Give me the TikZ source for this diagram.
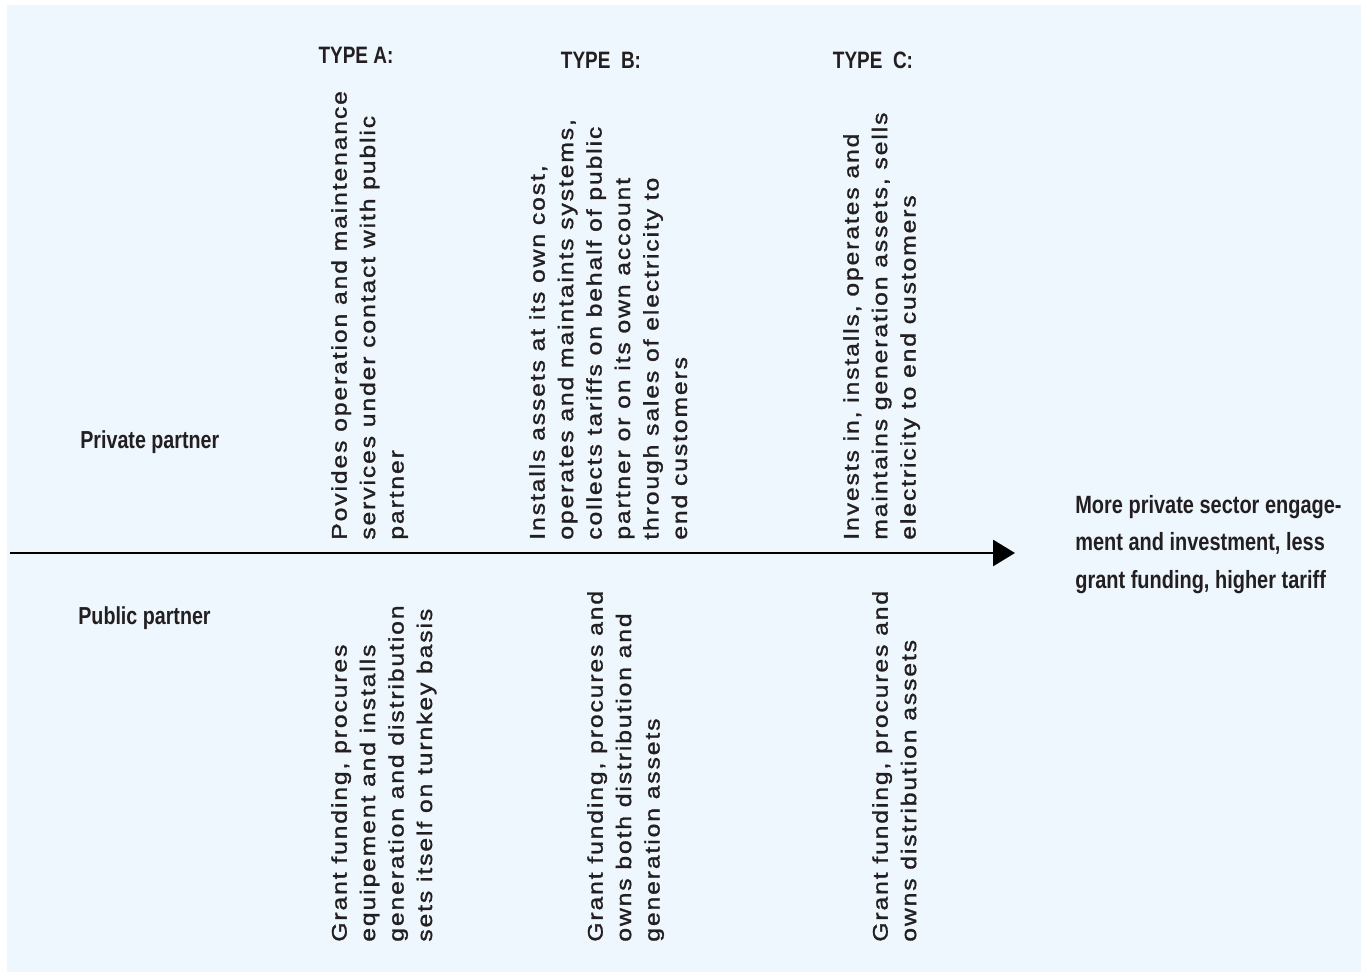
\documentclass[tikz,border=0pt]{standalone}
\usepackage{fontspec}
\setmainfont{Liberation Sans}
\newfontfamily\bodyfont{Liberation Sans}[FakeStretch=1.17,LetterSpace=9,FakeBold=1.4]
\newfontfamily\labelfont{Liberation Sans}[FakeStretch=0.8]
\usepackage{xcolor}
\usepackage{tikz}
\usetikzlibrary{arrows.meta,positioning}
\definecolor{panelblue}{HTML}{EEF6FE}
\definecolor{inkgray}{HTML}{231F20}

\begin{document}
\begin{tikzpicture}[x=0.02cm,y=-0.02cm,
  vtext/.style={rotate=90,anchor=north west,inner sep=0pt,align=left,text=inkgray,
    font=\bodyfont\fontsize{12}{16.2}\selectfont},
  typelabel/.style={inner sep=0pt,text=inkgray,font=\labelfont\bfseries\fontsize{13.5}{16}\selectfont},
  sidelabel/.style={inner sep=0pt,anchor=west,text=inkgray,font=\labelfont\bfseries\fontsize{14}{17}\selectfont}]
  \useasboundingbox (0,0) rectangle (1361,972);
  \fill[white] (0,0) rectangle (1361,972);
  \fill[panelblue] (7,5) rectangle (1361,972);
  % axis
  \coordinate (axisL) at (10,553);
  \coordinate (axisR) at (1015,553);
  \draw[line width=1.7pt,-{Triangle[length=0.44cm,width=0.52cm]}] (axisL) -- (axisR);
  % headings
  \node[typelabel] (typeA) at (356,55) {TYPE A:};
  \node[typelabel] (typeB) at (601,60) {TYPE\ \ B:};
  \node[typelabel] (typeC) at (873,60) {TYPE\ \ C:};
  \node[sidelabel] (private) at (80,442) {Private partner};
  \node[sidelabel] (public) at (78,618) {Public partner};
  \node[inner sep=0pt,anchor=north west,align=left,text=inkgray,
    font=\labelfont\bfseries\fontsize{14.2}{21.3}\selectfont] (outcome) at (1075,495)
    {More private sector engage-\\ment and investment, less\\grant funding, higher tariff};
  % private partner roles
  \node[vtext] (privA) at (331,540) {Povides operation and maintenance\\services under contact with public\\partner};
  \node[vtext] (privB) at (529,540) {Installs assets at its own cost,\\operates and maintaints systems,\\collects tariffs on behalf of public\\partner or on its own account\\through sales of electricity to\\end customers};
  \node[vtext] (privC) at (843,540) {Invests in, installs, operates and\\maintains generation assets, sells\\electricity to end customers};
  % public partner roles
  \node[vtext] (pubA) at (331,942) {Grant funding, procures\\equipement and installs\\generation and distribution\\sets itself on turnkey basis};
  \node[vtext] (pubB) at (587,942) {Grant funding, procures and\\owns both distribution and\\generation assets};
  \node[vtext] (pubC) at (872,942) {Grant funding, procures and\\owns distribution assets};
\end{tikzpicture}
\end{document}
